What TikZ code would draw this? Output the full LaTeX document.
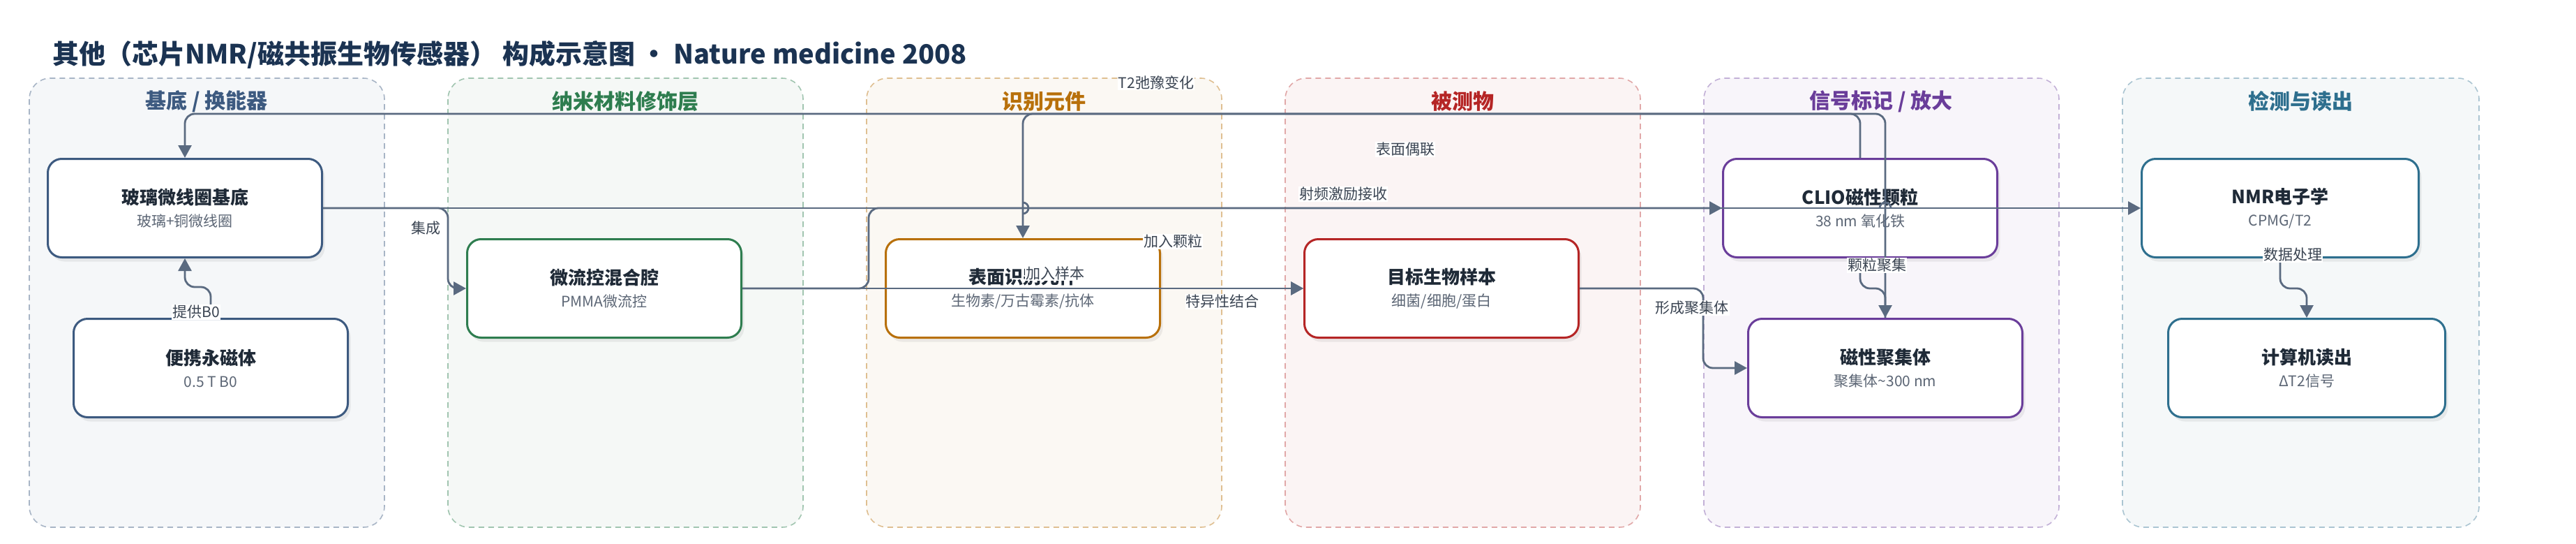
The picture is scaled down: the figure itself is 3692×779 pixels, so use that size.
\documentclass[tikz,border=0pt]{standalone}
\usepackage{fontspec}
\setmainfont{Noto Sans CJK SC}
\usepackage{tikz}
\usetikzlibrary{arrows.meta, shadows}

\definecolor{titleink}{HTML}{1B3352}
\definecolor{ink}{HTML}{1F2A37}
\definecolor{subink}{HTML}{5C6675}
\definecolor{tagink}{HTML}{3A4452}
\definecolor{wirecol}{HTML}{5A6A80}
\definecolor{slate}{HTML}{3D5A80}
\definecolor{leaf}{HTML}{2E7D4F}
\definecolor{amber}{HTML}{B8700A}
\definecolor{brick}{HTML}{B52525}
\definecolor{grape}{HTML}{6A3D9A}
\definecolor{teal}{HTML}{2E6F8E}

\begin{document}
\begin{tikzpicture}[x=1pt, y=-1pt]
\tikzstyle{lane}=[rounded corners=30pt, dash pattern=on 8pt off 6pt, line width=1.6pt]
\tikzstyle{lanetitle}=[font=\fontsize{30}{34}\selectfont\bfseries]
\tikzstyle{unit}=[rectangle, rounded corners=20pt, fill=white, line width=3pt, minimum width=393pt, minimum height=141pt, align=center, text=subink, font=\fontsize{21}{25}\selectfont, drop shadow={shadow xshift=4pt, shadow yshift=-6pt, opacity=0.13}]
\tikzstyle{link}=[draw=wirecol, line width=2.8pt, rounded corners=14pt, -{Triangle[length=18pt,width=19pt]}]
\tikzstyle{tag}=[fill=white, inner sep=1pt, text=tagink, font=\fontsize{21}{24}\selectfont]

\fill[white] (0,0) rectangle (3692,779);
\useasboundingbox (0,0) rectangle (3692,779);

% title
\node[anchor=west, text=titleink, font=\fontsize{38}{44}\selectfont\bfseries] (title) at (72,78) {其他（芯片NMR/磁共振生物传感器） 构成示意图 · Nature medicine 2008};

% lanes
\draw[lane, draw=slate!45, fill=slate!5] (42,112) rectangle (551,755);
\draw[lane, draw=leaf!45, fill=leaf!5] (642,112) rectangle (1151,755);
\draw[lane, draw=amber!45, fill=amber!5] (1242,112) rectangle (1751,755);
\draw[lane, draw=brick!40, fill=brick!5] (1842,112) rectangle (2351,755);
\draw[lane, draw=grape!40, fill=grape!5] (2442,112) rectangle (2951,755);
\draw[lane, draw=teal!40, fill=teal!5] (3042,112) rectangle (3553,755);
\node[lanetitle, text=slate] (lane1) at (296,145) {基底 / 换能器};
\node[lanetitle, text=leaf] (lane2) at (896,145) {纳米材料修饰层};
\node[lanetitle, text=amber] (lane3) at (1496,145) {识别元件};
\node[lanetitle, text=brick] (lane4) at (2096,145) {被测物};
\node[lanetitle, text=grape] (lane5) at (2696,145) {信号标记 / 放大};
\node[lanetitle, text=teal] (lane6) at (3297,145) {检测与读出};

% units
\node[unit, draw=slate] (coil) at (265,298) {{\fontsize{26}{30}\selectfont\bfseries\color{ink}玻璃微线圈基底}\\[7pt]玻璃+铜微线圈};
\node[unit, draw=slate] (magnet) at (302,527) {{\fontsize{26}{30}\selectfont\bfseries\color{ink}便携永磁体}\\[7pt]0.5 T B0};
\node[unit, draw=leaf] (chamber) at (866,413) {{\fontsize{26}{30}\selectfont\bfseries\color{ink}微流控混合腔}\\[7pt]PMMA微流控};
\node[unit, draw=amber] (receptor) at (1466,413) {{\fontsize{26}{30}\selectfont\bfseries\color{ink}表面识别元件}\\[7pt]生物素/万古霉素/抗体};
\node[unit, draw=brick] (sample) at (2066,413) {{\fontsize{26}{30}\selectfont\bfseries\color{ink}目标生物样本}\\[7pt]细菌/细胞/蛋白};
\node[unit, draw=grape] (clio) at (2666,298) {{\fontsize{26}{30}\selectfont\bfseries\color{ink}CLIO磁性颗粒}\\[7pt]38 nm 氧化铁};
\node[unit, draw=grape] (cluster) at (2702,527) {{\fontsize{26}{30}\selectfont\bfseries\color{ink}磁性聚集体}\\[7pt]聚集体\textasciitilde300 nm};
\node[unit, draw=teal, minimum width=397pt] (nmr) at (3268,298) {{\fontsize{26}{30}\selectfont\bfseries\color{ink}NMR电子学}\\[7pt]CPMG/T2};
\node[unit, draw=teal, minimum width=397pt] (readout) at (3306,527) {{\fontsize{26}{30}\selectfont\bfseries\color{ink}计算机读出}\\[7pt]ΔT2信号};

% links
\draw[link] (magnet.north) -- ++(0,-44) -| (coil.south);
\draw[link] (coil.east) -| ([xshift=-26pt]chamber.west) -- (chamber.west);
\draw[link] (coil.east) -- (nmr.west);
\draw[link] (chamber.east) -- ++(181,0) |- (clio.west);
\draw[link] (chamber.east) -- (sample.west);
\draw[link] (receptor.east) -- (sample.west);
\draw[link] (clio.north) -- ++(0,-63) -| (receptor.north);
\draw[link] (cluster.north) -- ++(0,-292) -| (coil.north);
\draw[link] (clio.south) -- ++(0,43) -| (cluster.north);
\draw[link] (sample.east) -| ([xshift=-63pt]cluster.west) -- (cluster.west);
\draw[link] (nmr.south) -- ++(0,43) -| (readout.north);
% hops
\draw[wirecol, line width=2.8pt] (1466,290) arc[start angle=-90, end angle=90, radius=8];
\draw[wirecol, line width=2.8pt] (2694,298) arc[start angle=180, end angle=360, radius=8];

% tags
\node[tag] (t1) at (281,447) {提供B0};
\node[tag] (t2) at (610,327) {集成};
\node[tag] (t3) at (1925,278) {射频激励接收};
\node[tag] (t4) at (1657,118) {T2弛豫变化};
\node[tag] (t5) at (2014,214) {表面偶联};
\node[tag] (t6) at (1681,346) {加入颗粒};
\node[tag] (t7) at (1512,391) {加入样本};
\node[tag] (t8) at (1752,432) {特异性结合};
\node[tag] (t9) at (2425,441) {形成聚集体};
\node[tag] (t10) at (2690,380) {颗粒聚集};
\node[tag] (t11) at (3286,365) {数据处理};
\end{tikzpicture}
\end{document}
